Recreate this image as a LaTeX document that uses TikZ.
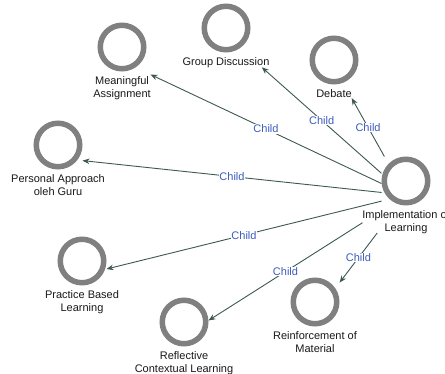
\documentclass[tikz,border=0pt]{standalone}
\usepackage{fontspec}
\setmainfont{Liberation Sans}
\usetikzlibrary{calc,fit,arrows.meta}
\definecolor{ringgray}{RGB}{128,128,128}
\definecolor{edgecol}{RGB}{62,88,84}
\definecolor{tipcol}{RGB}{40,84,64}
\definecolor{childblue}{RGB}{62,92,190}
\definecolor{labelcol}{RGB}{25,25,25}

\begin{document}
\begin{tikzpicture}[x=1pt,y=-1pt,
  ring/.style={circle, draw=ringgray, line width=5.5pt, minimum size=43.5pt, inner sep=0pt},
  caption/.style={anchor=north, inner sep=0pt, align=center,
    font=\fontsize{11}{13}\selectfont, text=labelcol},
  group/.style={inner sep=0pt},
  link/.style={draw=edgecol, line width=0.9pt,
    -{Stealth[length=7pt,width=5.5pt,fill=tipcol]}},
  rel/.style={fill=white, inner sep=0.6pt, text=childblue,
    font=\fontsize{11}{13}\selectfont}]

\useasboundingbox[fill=white] (0,0) rectangle (445,374);

% parent concept
\node[ring] (implC) at (406,181) {};
\node[caption] (implL) at (406,210) {Implementation of\\Learning};
\node[group, fit=(implC)(implL)] (impl) {};

% child concepts
\node[ring] (meanC) at (122,47) {};
\node[caption] (meanL) at (122,76) {Meaningful\\Assignment};
\node[group, fit=(meanC)(meanL)] (mean) {};

\node[ring] (grpC) at (226,28) {};
\node[caption] (grpL) at (226,57) {Group Discussion};
\node[group, fit=(grpC)(grpL)] (grp) {};

\node[ring] (debC) at (334,60) {};
\node[caption] (debL) at (334,89) {Debate};
\node[group, fit=(debC)(debL)] (deb) {};

\node[ring] (persC) at (58,145) {};
\node[caption] (persL) at (58,174) {Personal Approach\\oleh Guru};
\node[group, fit=(persC)(persL)] (pers) {};

\node[ring] (pracC) at (82,261) {};
\node[caption] (pracL) at (82,290) {Practice Based\\Learning};
\node[group, fit=(pracC)(pracL)] (prac) {};

\node[ring] (reflC) at (184,322) {};
\node[caption] (reflL) at (184,351) {Reflective\\Contextual Learning};
\node[group, fit=(reflC)(reflL)] (refl) {};

\node[ring] (reinfC) at (315,302) {};
\node[caption] (reinfL) at (315,331) {Reinforcement of\\Material};
\node[group, fit=(reinfC)(reinfL)] (reinf) {};

% "Child" relations, centre to centre, trimmed at each concept's outline
\draw[link] ($(impl.center)!27.1pt!(mean.center)$) -- ($(mean.center)!31.5pt!(impl.center)$)
  node[rel, midway] {Child};
\draw[link] ($(impl.center)!32.8pt!(grp.center)$) -- ($(grp.center)!47.8pt!(impl.center)$)
  node[rel, midway] {Child};
\draw[link] ($(impl.center)!44.2pt!(deb.center)$) -- ($(deb.center)!36.2pt!(impl.center)$)
  node[rel, midway] {Child};
\draw[link] ($(impl.center)!24.6pt!(pers.center)$) -- ($(pers.center)!24.6pt!(impl.center)$)
  node[rel, midway] {Child};
\draw[link] ($(impl.center)!25.2pt!(prac.center)$) -- ($(prac.center)!25.2pt!(impl.center)$)
  node[rel, midway] {Child};
\draw[link] ($(impl.center)!51.5pt!(refl.center)$) -- ($(refl.center)!29pt!(impl.center)$)
  node[rel, midway] {Child};
\draw[link] ($(impl.center)!47.6pt!(reinf.center)$) -- ($(reinf.center)!40.7pt!(impl.center)$)
  node[rel, midway] {Child};
\end{tikzpicture}
\end{document}
